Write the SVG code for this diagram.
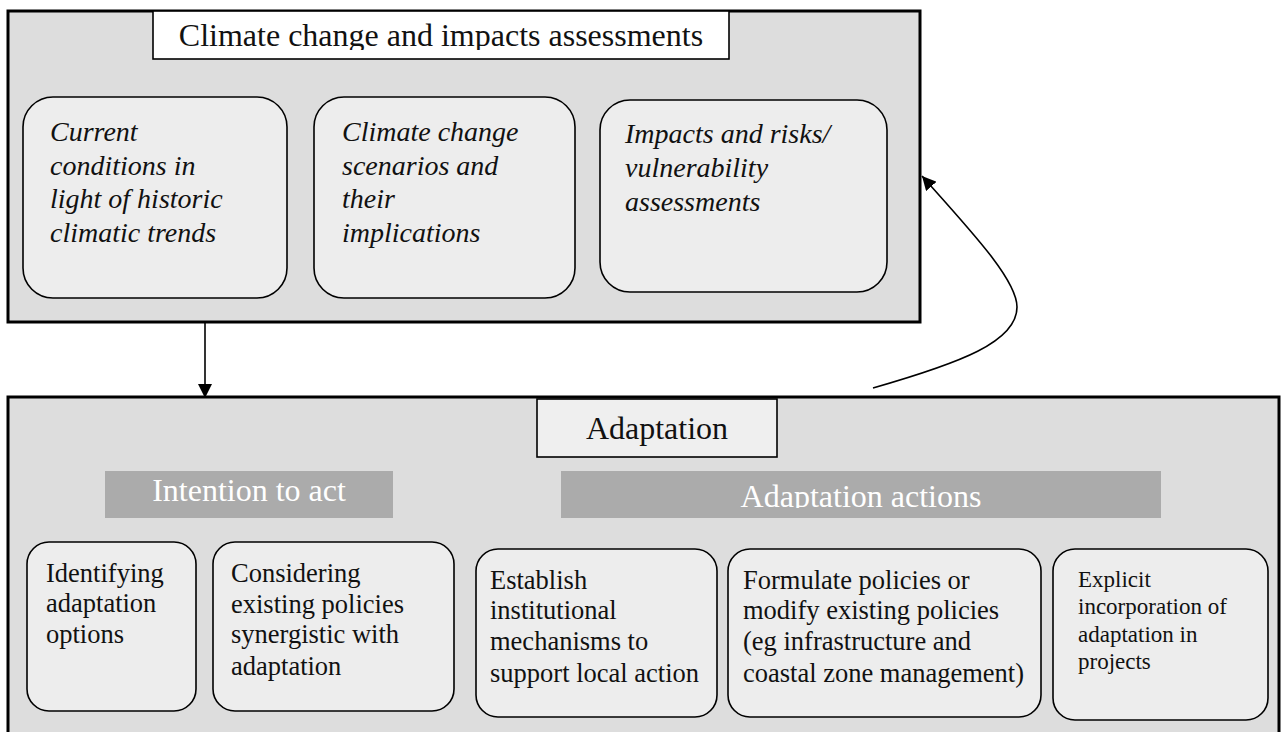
<svg xmlns="http://www.w3.org/2000/svg" width="1282" height="732" viewBox="0 0 1282 732">
<style>
.outer{fill:#dddddd;stroke:#000;stroke-width:3}
.rb{fill:#ededed;stroke:#000;stroke-width:1.6}
.tb{stroke:#000;stroke-width:1.6}
.it{font-family:"Liberation Serif",serif;font-style:italic;font-size:28px;fill:#111}
.rg{font-family:"Liberation Serif",serif;font-size:26.5px;fill:#111}
.sm{font-family:"Liberation Serif",serif;font-size:23px;fill:#111}
.hd{font-family:"Liberation Serif",serif;font-size:32px;fill:#111}
.bar{fill:#ababab}
.bt{font-family:"Liberation Serif",serif;font-size:32px;fill:#fff}
.conn{fill:none;stroke:#000;stroke-width:1.6}
</style>
<defs>
<marker id="ah2" viewBox="0 0 10 10" refX="10" refY="5" markerWidth="14" markerHeight="14" markerUnits="userSpaceOnUse" orient="auto">
<path d="M0,0 L10,5 L0,10 z" fill="#000"/>
</marker>
<clipPath id="c1"><rect x="153" y="10" width="576" height="40"/></clipPath>
<clipPath id="c2"><rect x="561" y="471" width="600" height="37"/></clipPath>
</defs>

<g id="top-group">
<rect class="outer" x="8" y="11" width="912" height="311"/>
</g>
<g id="top-title">
<rect class="tb" fill="#fff" x="153" y="11" width="576" height="48"/>
<text class="hd" x="441" y="46" text-anchor="middle" clip-path="url(#c1)">Climate change and impacts assessments</text>
</g>
<g id="current-conditions">
<rect class="rb" x="23" y="97" width="264" height="201" rx="30"/>
<text class="it" x="50" y="141">Current</text>
<text class="it" x="50" y="175">conditions in</text>
<text class="it" x="50" y="208">light of historic</text>
<text class="it" x="50" y="242">climatic trends</text>
</g>
<g id="scenarios">
<rect class="rb" x="314" y="97" width="261" height="201" rx="30"/>
<text class="it" x="342" y="141">Climate change</text>
<text class="it" x="342" y="175">scenarios and</text>
<text class="it" x="342" y="208">their</text>
<text class="it" x="342" y="242">implications</text>
</g>
<g id="impacts">
<rect class="rb" x="600" y="100" width="287" height="192" rx="30"/>
<text class="it" x="625" y="143">Impacts and risks/</text>
<text class="it" x="625" y="177">vulnerability</text>
<text class="it" x="625" y="211">assessments</text>
</g>

<g id="adaptation-group">
<rect class="outer" x="8" y="397" width="1271" height="345"/>
</g>
<g id="adaptation-title">
<rect class="tb" fill="#efefef" x="537" y="399" width="240" height="58"/>
<text class="hd" x="657" y="439" text-anchor="middle">Adaptation</text>
</g>
<g id="intention">
<rect class="bar" x="105" y="471" width="288" height="47"/>
<text class="bt" x="249" y="501" text-anchor="middle">Intention to act</text>
</g>
<g id="actions">
<rect class="bar" x="561" y="471" width="600" height="47"/>
<text class="bt" x="861" y="507" text-anchor="middle" clip-path="url(#c2)">Adaptation actions</text>
</g>
<g id="identifying">
<rect class="rb" x="27" y="542" width="169" height="169" rx="22"/>
<text class="rg" x="46" y="582">Identifying</text>
<text class="rg" x="46" y="612">adaptation</text>
<text class="rg" x="46" y="643">options</text>
</g>
<g id="considering">
<rect class="rb" x="213" y="542" width="241" height="169" rx="22"/>
<text class="rg" x="231" y="582">Considering</text>
<text class="rg" x="231" y="613">existing policies</text>
<text class="rg" x="231" y="643">synergistic with</text>
<text class="rg" x="231" y="675">adaptation</text>
</g>
<g id="establish">
<rect class="rb" x="476" y="549" width="241" height="168" rx="22"/>
<text class="rg" x="490" y="589">Establish</text>
<text class="rg" x="490" y="619">institutional</text>
<text class="rg" x="490" y="650">mechanisms to</text>
<text class="rg" x="490" y="682">support local action</text>
</g>
<g id="formulate">
<rect class="rb" x="728" y="549" width="313" height="168" rx="22"/>
<text class="rg" x="743" y="589">Formulate policies or</text>
<text class="rg" x="743" y="619">modify existing policies</text>
<text class="rg" x="743" y="650">(eg infrastructure and</text>
<text class="rg" x="743" y="682">coastal zone management)</text>
</g>
<g id="explicit">
<rect class="rb" x="1053" y="549" width="215" height="171" rx="22"/>
<text class="sm" x="1078" y="587">Explicit</text>
<text class="sm" x="1078" y="614">incorporation of</text>
<text class="sm" x="1078" y="642">adaptation in</text>
<text class="sm" x="1078" y="669">projects</text>
</g>

<g id="connectors">
<line class="conn" x1="205" y1="323" x2="205" y2="398" marker-end="url(#ah2)"/>
<path class="conn" d="M873,388 C960,363 1017,342 1017,307 C1017,280 972,232 922,176" marker-end="url(#ah2)"/>
</g>
</svg>
